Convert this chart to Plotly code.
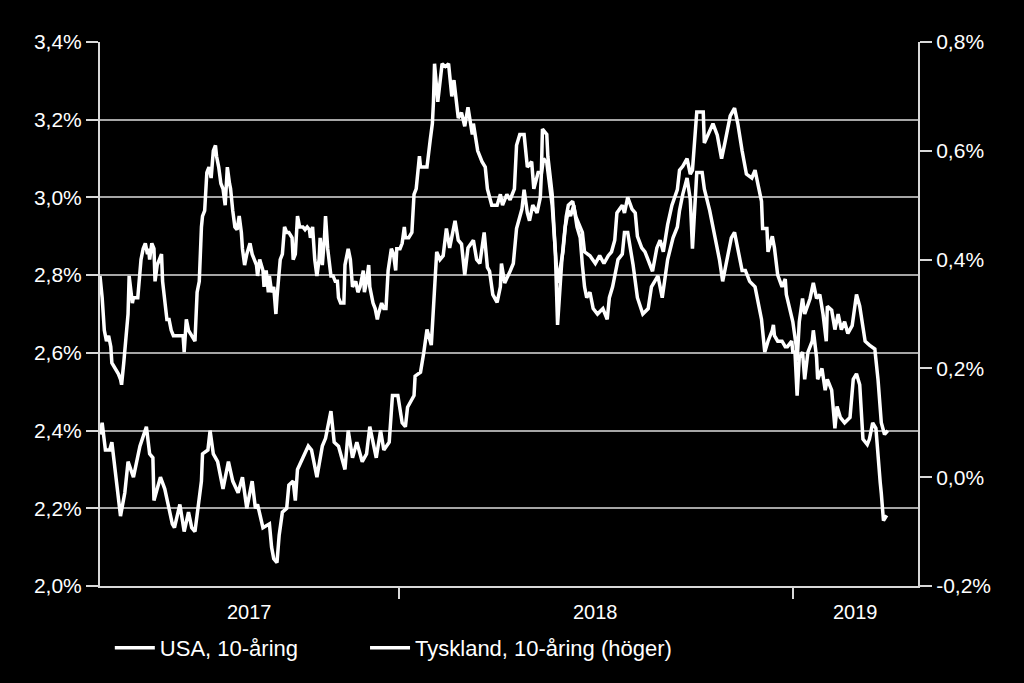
import pandas as pd
import plotly.graph_objects as go

# ---------------- data ----------------
start_date = pd.Timestamp("2017-03-30")
axis_span_days = 758

us_day = [0, 2, 5, 9, 11, 14, 17, 19, 23, 26,
          31, 34, 37, 43, 46, 49, 50, 56, 60, 67,
          69, 74, 78, 82, 85, 88, 94, 95, 100, 102,
          105, 109, 114, 119, 123, 128, 132, 136, 141, 144,
          146, 151, 157, 159, 161, 164, 166, 169, 173, 175,
          179, 181, 183, 188, 193, 196, 201, 206, 209, 214,
          217, 221, 227, 230, 234, 238, 243, 247, 250, 256,
          260, 263, 268, 271, 276, 280, 283, 285, 291, 292,
          297, 300, 303, 307, 309, 312, 315, 318, 321, 324,
          329, 332, 335, 338, 341, 346, 349, 352, 356, 359,
          361, 364, 368, 371, 372, 375, 380, 383, 386, 391,
          393, 396, 398, 401, 405, 408, 409, 411, 414, 416,
          419, 421, 424, 426, 429, 432, 434, 438, 441, 444,
          447, 449, 454, 459, 463, 467, 471, 474, 477, 479,
          484, 486, 489, 493, 496, 498, 502, 505, 510, 512,
          516, 519, 522, 526, 530, 535, 537, 540, 544, 547,
          549, 553, 556, 559, 560, 565, 568, 572, 576, 579,
          584, 588, 591, 595, 599, 604, 607, 610, 613, 614,
          618, 619, 623, 625, 628, 632, 635, 636, 639, 642,
          645, 646, 648, 651, 653, 658, 661, 664, 667, 670,
          673, 674, 678, 681, 684, 687, 690, 693, 697, 701,
          704, 709, 713, 718, 721, 724, 727, 730]

us_yield = [2.39, 2.42, 2.35, 2.35, 2.37, 2.30, 2.23, 2.18, 2.24, 2.32,
            2.28, 2.32, 2.36, 2.41, 2.34, 2.33, 2.22, 2.28, 2.25, 2.16,
            2.15, 2.21, 2.14, 2.19, 2.15, 2.14, 2.27, 2.34, 2.35, 2.40,
            2.34, 2.32, 2.25, 2.32, 2.27, 2.24, 2.28, 2.20, 2.27, 2.20,
            2.21, 2.15, 2.16, 2.10, 2.07, 2.06, 2.13, 2.19, 2.20, 2.26,
            2.27, 2.22, 2.30, 2.33, 2.36, 2.35, 2.28, 2.36, 2.38, 2.45,
            2.37, 2.36, 2.30, 2.40, 2.33, 2.37, 2.32, 2.34, 2.41, 2.33,
            2.40, 2.35, 2.37, 2.49, 2.49, 2.42, 2.41, 2.46, 2.49, 2.54,
            2.55, 2.60, 2.66, 2.62, 2.72, 2.86, 2.84, 2.85, 2.92, 2.87,
            2.94, 2.89, 2.88, 2.80, 2.87, 2.89, 2.84, 2.83, 2.91, 2.82,
            2.81, 2.75, 2.73, 2.77, 2.83, 2.78, 2.81, 2.83, 2.92, 2.97,
            3.02, 2.96, 2.94, 2.98, 2.96, 3.00, 3.06, 3.10, 3.09, 3.04,
            2.98, 2.90, 2.78, 2.81, 2.86, 2.95, 2.98, 2.99, 2.95, 2.93,
            2.91, 2.86, 2.85, 2.83, 2.85, 2.83, 2.85, 2.86, 2.89, 2.96,
            2.98, 2.96, 3.00, 2.97, 2.96, 2.90, 2.87, 2.86, 2.82, 2.81,
            2.87, 2.89, 2.86, 2.93, 2.98, 3.02, 3.07, 3.08, 3.10, 3.06,
            3.07, 3.22, 3.22, 3.22, 3.14, 3.17, 3.19, 3.16, 3.10, 3.14,
            3.21, 3.23, 3.19, 3.12, 3.06, 3.05, 3.07, 3.03, 2.99, 2.92,
            2.92, 2.86, 2.90, 2.87, 2.80, 2.77, 2.79, 2.75, 2.71, 2.68,
            2.62, 2.58, 2.68, 2.74, 2.70, 2.74, 2.78, 2.74, 2.75, 2.70,
            2.63, 2.72, 2.71, 2.66, 2.70, 2.66, 2.68, 2.65, 2.67, 2.75,
            2.72, 2.63, 2.62, 2.61, 2.53, 2.42, 2.39, 2.40]

de_day = [0, 2, 4, 6, 8, 10, 11, 14, 17, 19,
          20, 22, 24, 26, 27, 30, 31, 35, 38, 40,
          42, 44, 45, 46, 48, 50, 51, 53, 55, 57,
          58, 60, 62, 64, 66, 68, 70, 74, 77, 78,
          80, 82, 85, 88, 90, 92, 94, 95, 97, 99,
          101, 103, 105, 107, 108, 110, 112, 114, 116, 118,
          120, 121, 123, 125, 127, 129, 131, 132, 134, 136,
          139, 141, 143, 145, 146,
          148, 151, 152, 154, 156, 157, 159, 161, 163, 164,
          167, 169, 171, 173, 175, 178, 179, 181, 183, 185,
          188, 190, 192, 194, 195, 197, 199, 201, 203, 204,
          206, 208, 209, 211, 214, 216, 218, 220, 221, 223,
          226, 227, 230, 232, 233, 234, 237, 239, 241, 244,
          245, 247, 249, 250, 253, 255, 257, 258, 261, 263,
          265, 267, 270, 272, 274, 275, 278, 280, 282, 283,
          286, 289, 291, 293, 296, 297, 301, 303, 306, 308,
          309,
          310, 313, 317, 320, 323, 326, 328, 332, 335, 338,
          341, 345, 346, 350, 354, 357, 359, 363, 368, 371,
          373, 377, 380, 384, 386, 389, 393, 396, 400, 402,
          406, 409, 410, 414, 415, 419, 422, 424, 426, 428,
          431, 434, 436, 439, 442, 445, 447, 449, 451, 454,
          457, 461, 466, 470, 472, 475, 479, 480, 484, 486,
          489, 494, 498, 503, 508, 511, 514, 517, 521, 523,
          526, 531, 535, 537, 540, 544, 547, 549, 553, 558,
          560, 565, 570, 574, 577, 581, 585, 588, 591, 595,
          598, 602, 607, 610, 613, 614, 616, 619, 623, 624,
          625, 628, 632, 635, 637, 641, 642, 644, 646, 648,
          651, 653, 656, 660, 661, 664, 665, 669, 672, 674,
          678, 681, 683, 686, 690, 695, 698, 701, 704, 707,
          711, 713, 716, 719, 721, 723, 724, 726, 729]

de_yield = [0.37, 0.33, 0.27, 0.25, 0.26, 0.24, 0.21, 0.20, 0.19, 0.18,
            0.17, 0.21, 0.25, 0.30, 0.37, 0.32, 0.33, 0.33, 0.40, 0.42,
            0.43, 0.41, 0.42, 0.40, 0.43, 0.42, 0.36, 0.39, 0.40, 0.41,
            0.36, 0.33, 0.29, 0.29, 0.27, 0.26, 0.26, 0.26, 0.26, 0.23,
            0.29, 0.27, 0.26, 0.25, 0.34, 0.36, 0.46, 0.48, 0.49, 0.56,
            0.57, 0.55, 0.60, 0.61, 0.59, 0.57, 0.54, 0.53, 0.50, 0.57,
            0.54, 0.53, 0.49, 0.46, 0.455, 0.48, 0.45, 0.42, 0.39, 0.41,
            0.43, 0.41, 0.40, 0.39, 0.37,
            0.40, 0.38, 0.35, 0.38, 0.34, 0.37, 0.34, 0.35, 0.30, 0.33,
            0.40, 0.41, 0.46, 0.45, 0.45, 0.44, 0.40, 0.41, 0.48, 0.46,
            0.46, 0.455, 0.46, 0.455, 0.44, 0.46, 0.40, 0.37, 0.40, 0.44,
            0.39, 0.44, 0.48, 0.42, 0.37, 0.37, 0.36, 0.36, 0.33, 0.32,
            0.32, 0.39, 0.42, 0.40, 0.37, 0.35, 0.36, 0.34, 0.35, 0.38,
            0.34, 0.36, 0.39, 0.35, 0.32, 0.31, 0.29, 0.30, 0.32, 0.31,
            0.31, 0.38, 0.42, 0.41, 0.38, 0.42, 0.42, 0.43, 0.46, 0.44,
            0.44, 0.45, 0.52, 0.53, 0.59, 0.57, 0.57, 0.57, 0.62, 0.65,
            0.69,
            0.76, 0.69, 0.76, 0.755, 0.76, 0.70, 0.73, 0.66, 0.67, 0.645,
            0.68, 0.63, 0.65, 0.60, 0.58, 0.57, 0.53, 0.50, 0.50, 0.52,
            0.50, 0.52, 0.51, 0.53, 0.61, 0.63, 0.63, 0.57, 0.58, 0.53,
            0.56, 0.56, 0.64, 0.63, 0.59, 0.52, 0.41, 0.28, 0.34, 0.40,
            0.46, 0.49, 0.48, 0.50, 0.46, 0.44, 0.39, 0.35, 0.33, 0.34,
            0.31, 0.30, 0.31, 0.29, 0.33, 0.35, 0.39, 0.40, 0.41, 0.45,
            0.45, 0.39, 0.33, 0.30, 0.31, 0.35, 0.36, 0.37, 0.33, 0.36,
            0.40, 0.44, 0.46, 0.49, 0.52, 0.55, 0.51, 0.42, 0.56, 0.56,
            0.53, 0.49, 0.44, 0.40, 0.36, 0.40, 0.44, 0.45, 0.42, 0.38,
            0.38, 0.36, 0.35, 0.32, 0.29, 0.27, 0.23, 0.25, 0.27, 0.28,
            0.26, 0.25, 0.25, 0.24, 0.24, 0.25, 0.23, 0.23, 0.15, 0.22,
            0.23, 0.18, 0.23, 0.25, 0.27, 0.22, 0.18, 0.20, 0.16, 0.18,
            0.16, 0.09, 0.13, 0.11, 0.10, 0.11, 0.18, 0.19, 0.17, 0.07,
            0.06, 0.07, 0.10, 0.09, 0.03, -0.01, -0.03, -0.08, -0.07]

left_tickvals = [2.0, 2.2, 2.4, 2.6, 2.8, 3.0, 3.2, 3.4]
left_ticktext = ["2,0%", "2,2%", "2,4%", "2,6%", "2,8%", "3,0%", "3,2%", "3,4%"]
right_tickvals = [-0.2, 0.0, 0.2, 0.4, 0.6, 0.8]
right_ticktext = ["-0,2%", "0,0%", "0,2%", "0,4%", "0,6%", "0,8%"]
year_bounds = ["2018-01-01", "2019-01-01"]
year_labels = ["2017", "2018", "2019"]

series_names = ["USA, 10-åring", "Tyskland, 10-åring (höger)"]

# ---------------- build ----------------
us_dates = start_date + pd.to_timedelta(us_day, unit="D")
de_dates = start_date + pd.to_timedelta(de_day, unit="D")
end_date = start_date + pd.Timedelta(days=axis_span_days)

FONT = "Liberation Sans, Arial, Helvetica, sans-serif"
AXIS_COL = "#d9d9d9"
GRID_COL = "#a6a6a6"
TXT_COL = "#ffffff"
LINE_W = 3.5

fig = go.Figure()
fig.add_trace(go.Scatter(x=us_dates, y=us_yield, name=series_names[0], mode="lines",
                         line=dict(color="#ffffff", width=LINE_W), yaxis="y",
                         legend="legend"))
fig.add_trace(go.Scatter(x=de_dates, y=de_yield, name=series_names[1], mode="lines",
                         line=dict(color="#ffffff", width=LINE_W), yaxis="y2",
                         legend="legend2"))

# year labels centred between the year boundaries
bounds = [start_date] + [pd.Timestamp(b) for b in year_bounds] + [end_date]
annotations = []
for i, lab in enumerate(year_labels):
    mid = bounds[i] + (bounds[i + 1] - bounds[i]) / 2
    annotations.append(dict(x=mid, y=-0.048, xref="x", yref="paper", text=lab,
                            showarrow=False, xanchor="center", yanchor="middle",
                            font=dict(family=FONT, size=20, color=TXT_COL)))

legend_common = dict(orientation="h", xanchor="left", y=-0.114, yanchor="middle",
                     font=dict(family=FONT, size=22, color=TXT_COL),
                     bgcolor="rgba(0,0,0,0)", itemwidth=40)

fig.update_layout(
    width=1024, height=683,
    paper_bgcolor="#000000", plot_bgcolor="#000000",
    margin=dict(l=100, r=106, t=42, b=97),
    font=dict(family=FONT, size=21, color=TXT_COL),
    showlegend=True,
    legend=dict(x=0.012, **legend_common),
    legend2=dict(x=0.324, **legend_common),
    annotations=annotations,
    xaxis=dict(type="date", range=[start_date, end_date], showgrid=False, zeroline=False,
               showline=True, linecolor=AXIS_COL, linewidth=2,
               tickmode="array", tickvals=year_bounds, ticks="outside", ticklen=11,
               tickwidth=2, tickcolor=AXIS_COL, showticklabels=False),
    yaxis=dict(range=[2.0, 3.4], tickmode="array", tickvals=left_tickvals, ticktext=left_ticktext,
               showgrid=True, gridcolor=GRID_COL, gridwidth=2, zeroline=False,
               showline=True, linecolor=AXIS_COL, linewidth=2,
               ticks="outside", ticklen=12, tickwidth=2, tickcolor=AXIS_COL,
               tickfont=dict(family=FONT, size=21, color=TXT_COL)),
    yaxis2=dict(range=[-0.2, 0.8], overlaying="y", side="right", tickmode="array",
                tickvals=right_tickvals, ticktext=right_ticktext,
                showgrid=False, zeroline=False, showline=True, linecolor=AXIS_COL, linewidth=2,
                ticks="outside", ticklen=12, tickwidth=2, tickcolor=AXIS_COL,
                tickfont=dict(family=FONT, size=21, color=TXT_COL)),
)

fig.write_html("out.html")
